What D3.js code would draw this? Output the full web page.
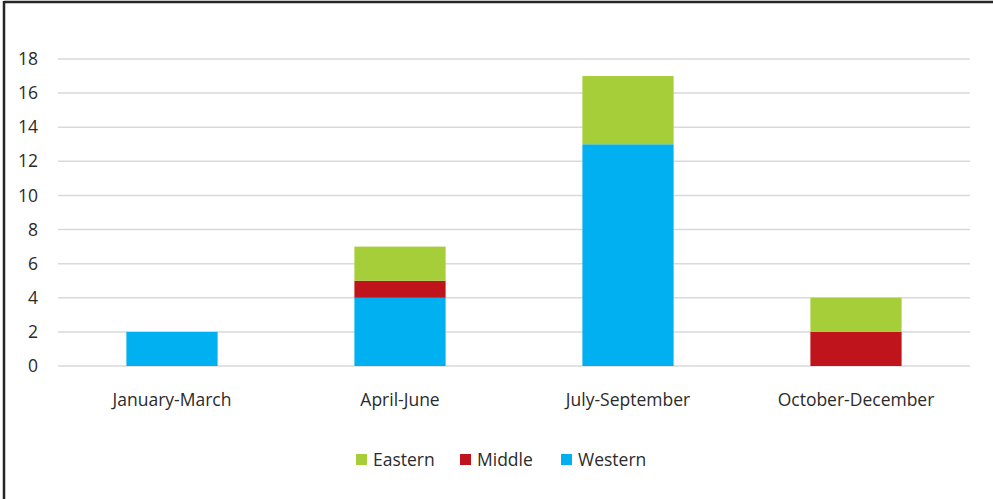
<!DOCTYPE html>
<html><head><meta charset="utf-8">
<script src="https://cdn.jsdelivr.net/npm/d3@7"></script>
<style>body{margin:0;background:#fff;}svg{display:block;}</style>
</head><body>
<svg id="c" width="993" height="499"></svg>
<script>
const categories = ["January-March","April-June","July-September","October-December"];
const western = [2,4,13,0];
const middle = [0,1,0,2];
const eastern = [0,2,4,2];
const seriesNames = ["Western","Middle","Eastern"];
const legendOrder = ["Eastern","Middle","Western"];
const colors = {Western:"#00B0F0", Middle:"#C0141C", Eastern:"#A5CE39"};
const yTicks = [0,2,4,6,8,10,12,14,16,18];

const svg = d3.select("#c");
const font = "'Open Sans', 'Noto Sans', sans-serif";
const textColor = "#2b2b2b";
const fs = 17.5;

// frame (top and left only)
svg.append("line").attr("x1",4).attr("x2",993).attr("y1",2).attr("y2",2).attr("stroke","#262626").attr("stroke-width",2.5);
svg.append("line").attr("x1",4).attr("x2",4).attr("y1",1).attr("y2",499).attr("stroke","#262626").attr("stroke-width",2.5);

const m = {left:58, right:970, top:59, bottom:366};
const x = d3.scaleBand().domain(categories).range([m.left,m.right]).paddingInner(0.6).paddingOuter(0.3);
const y = d3.scaleLinear().domain([0,18]).range([m.bottom,m.top]);

// grid
svg.append("g").selectAll("line").data(yTicks).join("line")
  .attr("x1",m.left).attr("x2",m.right)
  .attr("y1",d=>y(d)).attr("y2",d=>y(d))
  .attr("stroke","#d9d9d9").attr("stroke-width",1.5);

// y axis labels
const yAxis = d3.axisLeft(y).tickValues(yTicks).tickSize(0).tickPadding(0);
const ya = svg.append("g").attr("transform","translate(38,0)").call(yAxis);
ya.select(".domain").remove();
ya.selectAll("text").attr("font-family",font).attr("font-size",fs).attr("fill",textColor);

// stacked data
const table = categories.map((c,i)=>({cat:c, Western:western[i], Middle:middle[i], Eastern:eastern[i]}));
const stack = d3.stack().keys(seriesNames)(table);
svg.append("g").selectAll("g").data(stack).join("g")
  .attr("fill",d=>colors[d.key])
  .selectAll("rect").data(d=>d).join("rect")
  .attr("x",d=>x(d.data.cat))
  .attr("width",x.bandwidth())
  .attr("y",d=>y(d[1]))
  .attr("height",d=>y(d[0])-y(d[1]));

// x axis labels
const xAxis = d3.axisBottom(x).tickSize(0).tickPadding(0);
const xa = svg.append("g").attr("transform","translate(0,400)").call(xAxis);
xa.select(".domain").remove();
xa.selectAll("text").attr("font-family",font).attr("font-size",fs).attr("fill",textColor).attr("dy","0.35em");

// legend
const legendX = {Eastern:356, Middle:460, Western:561};
const lg = svg.append("g");
legendOrder.forEach(k=>{
  lg.append("rect").attr("x",legendX[k]).attr("y",454).attr("width",11).attr("height",11).attr("fill",colors[k]);
  lg.append("text").attr("x",legendX[k]+17).attr("y",460).attr("dy","0.35em")
    .attr("font-family",font).attr("font-size",fs).attr("fill",textColor).text(k);
});
</script>
</body></html>
